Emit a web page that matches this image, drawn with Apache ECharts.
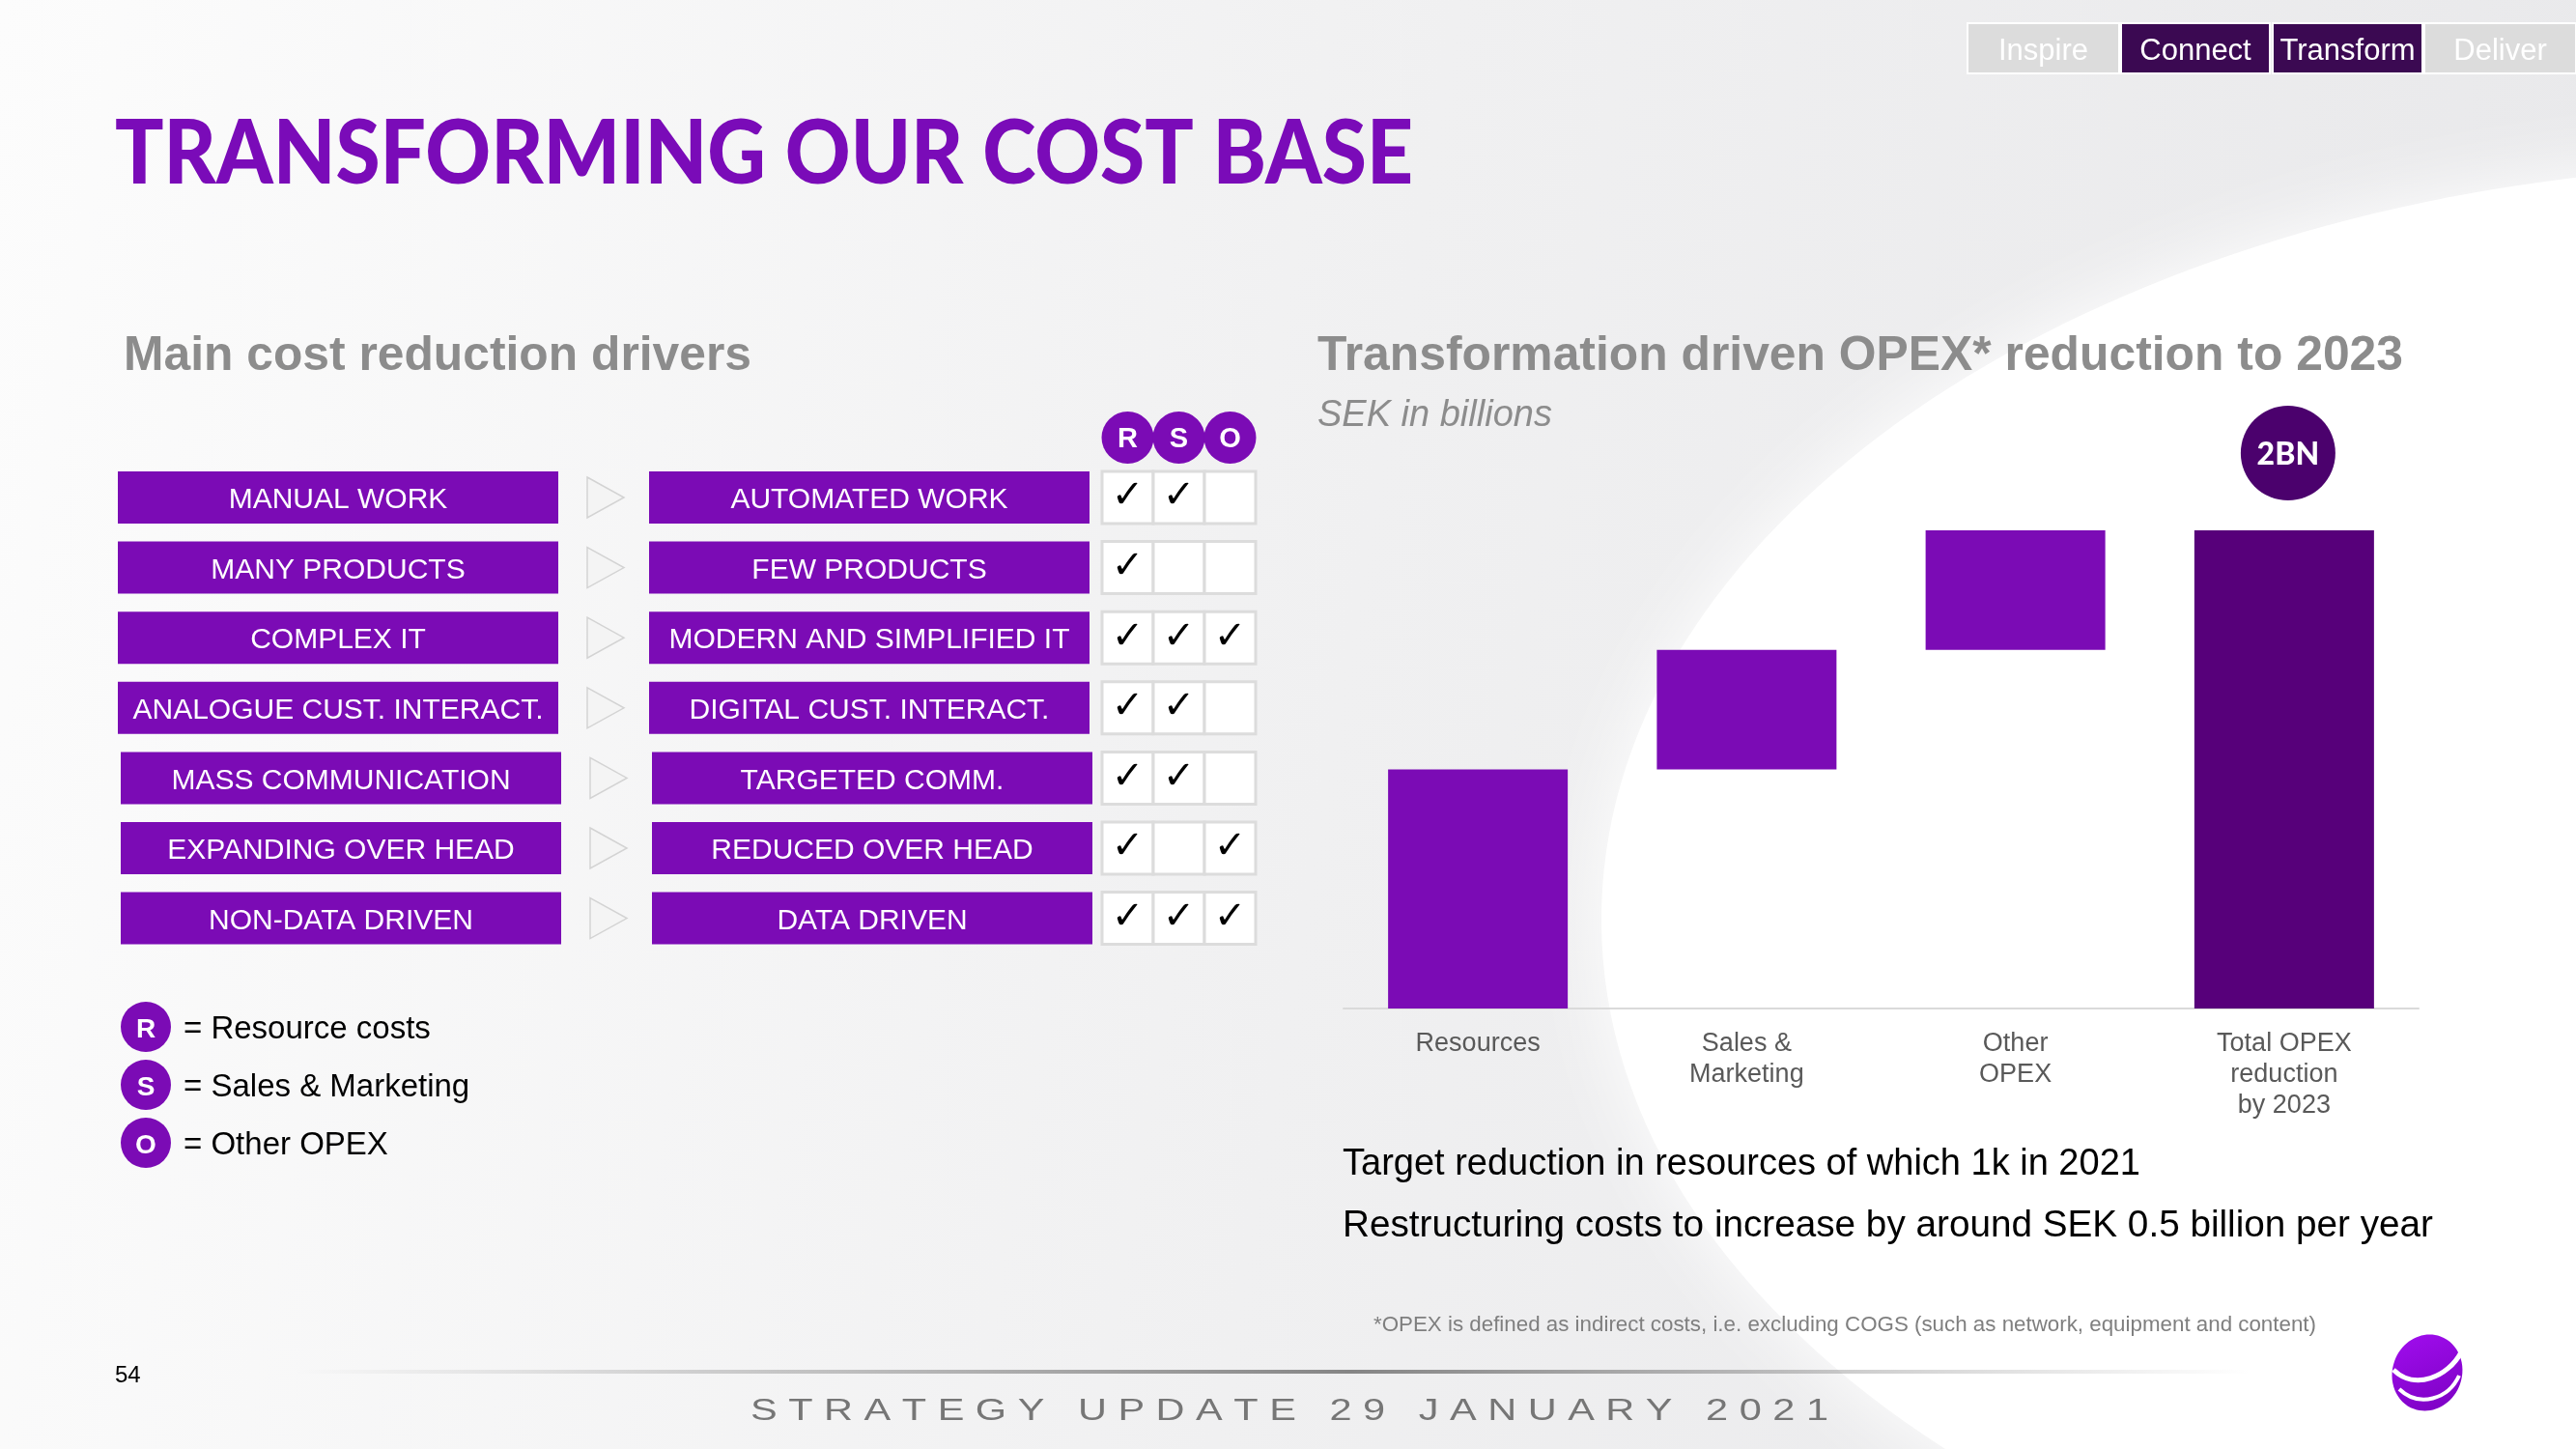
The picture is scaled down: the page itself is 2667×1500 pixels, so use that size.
<!DOCTYPE html>
<html>
<head>
<meta charset="utf-8">
<script src="https://cdn.jsdelivr.net/npm/echarts@6/dist/echarts.min.js"></script>
<style>
html,body{margin:0;padding:0;background:#fff;}
#main{width:2667px;height:1500px;}
</style>
</head>
<body>
<div id="main"></div>
<script>
// ---------- DATA ----------
const categories = ['Resources', 'Sales &\nMarketing', 'Other\nOPEX', 'Total OPEX\nreduction\nby 2023'];
const reductionValues = [1.0, 0.5, 0.5];   // SEK bn per driver
const totalValue = 2.0;                     // SEK bn total
const totalBadge = '2BN';

const fromLabels = ['MANUAL WORK', 'MANY PRODUCTS', 'COMPLEX IT', 'ANALOGUE CUST. INTERACT.', 'MASS COMMUNICATION', 'EXPANDING OVER HEAD', 'NON-DATA DRIVEN'];
const toLabels = ['AUTOMATED WORK', 'FEW PRODUCTS', 'MODERN AND SIMPLIFIED IT', 'DIGITAL CUST. INTERACT.', 'TARGETED COMM.', 'REDUCED OVER HEAD', 'DATA DRIVEN'];
const checkR = [1, 1, 1, 1, 1, 1, 1];
const checkS = [1, 0, 1, 1, 1, 0, 1];
const checkO = [0, 0, 1, 0, 0, 1, 1];
const costKeys = ['R', 'S', 'O'];
const costNames = ['Resource costs', 'Sales & Marketing', 'Other OPEX'];
const tabs = ['Inspire', 'Connect', 'Transform', 'Deliver'];
const activeTabs = [0, 1, 1, 0];
const notes = ['Target reduction in resources of which 1k in 2021', 'Restructuring costs to increase by around SEK 0.5 billion per year'];

// ---------- STYLE ----------
const PURPLE = '#7b0bb5';
const DARK = '#57007a';
const BADGE = '#4b016d';
const SANS = '"Liberation Sans", Arial, Helvetica, sans-serif';

const mctx = document.createElement('canvas').getContext('2d');
function fitScale(text, font, w) { mctx.font = font; return w / mctx.measureText(text).width; }

function txt(text, x, y, o) {
  o = o || {};
  const font = o.font || ('30px ' + SANS);
  const el = {
    type: 'text', x: x, y: y + 3, z: o.z != null ? o.z : 20,
    style: { text: text, x: 0, y: 0, font: font, fill: o.fill || '#000', textAlign: o.align || 'left', textVerticalAlign: 'middle' }
  };
  if (o.fit) { el.scaleX = fitScale(text, font, o.fit); }
  return el;
}

const chart = echarts.init(document.getElementById('main'), null, { renderer: 'canvas' });

const barValues = reductionValues.concat([totalValue]);
const bases = [];
let acc = 0;
reductionValues.forEach(v => { bases.push(acc); acc += v; });
bases.push(0);

chart.setOption({
  animation: false,
  backgroundColor: 'transparent',
  grid: { left: 1391, right: 163, top: 549, bottom: 456 },
  xAxis: {
    type: 'category', data: categories,
    axisLine: { lineStyle: { color: '#dadada', width: 2 } },
    axisTick: { show: false },
    axisLabel: { color: '#595959', fontSize: 27, lineHeight: 32, margin: 21, fontFamily: SANS, interval: 0 }
  },
  yAxis: { type: 'value', min: 0, max: 2, show: false, splitLine: { show: false } },
  series: [
    { type: 'bar', stack: 'w', barWidth: 186, silent: true, itemStyle: { color: 'rgba(0,0,0,0)' }, data: bases, z: 5 },
    { type: 'bar', stack: 'w', barWidth: 186, z: 5,
      data: barValues.map((v, i) => ({ value: v, itemStyle: { color: i === barValues.length - 1 ? DARK : PURPLE } })) }
  ]
});

// ---------- GRAPHICS ----------
const g = [];
// background
g.push({ type: 'rect', z: -10, shape: { x: 0, y: 0, width: 2667, height: 1500 },
  style: { fill: new echarts.graphic.LinearGradient(0, 0, 1, 0.3, [
    { offset: 0, color: '#fcfcfc' }, { offset: 0.55, color: '#f0f0f1' }, { offset: 1, color: '#e9e9eb' }]) } });
g.push({ type: 'ellipse', z: -9, shape: { cx: 2900, cy: 952, rx: 1242, ry: 782 },
  style: { fill: '#ffffff', shadowBlur: 80, shadowColor: 'rgba(255,255,255,1)' } });

// tabs
const tabX = [2037, 2196, 2353, 2510];
const tabW = [157, 154, 155, 157];
tabs.forEach((t, i) => {
  g.push({ type: 'rect', z: 10, shape: { x: tabX[i], y: 24, width: tabW[i], height: 52 },
    style: { fill: activeTabs[i] ? '#3b0952' : '#dcdcdc', stroke: '#ffffff', lineWidth: 2 } });
  g.push(txt(t, tabX[i] + tabW[i] / 2, 50, { align: 'center', fill: '#ffffff', font: '31px ' + SANS }));
});

// main title
g.push(txt('TRANSFORMING OUR COST BASE', 119, 157, { font: '900 92px Lato, "Open Sans", sans-serif', fill: '#7a0bb8', fit: 1344 }));

// section titles
g.push(txt('Main cost reduction drivers', 128, 366, { font: 'bold 50px ' + SANS, fill: '#8c8c8c', fit: 650 }));
g.push(txt('Transformation driven OPEX* reduction to 2023', 1364, 366, { font: 'bold 50px ' + SANS, fill: '#8c8c8c', fit: 1124 }));
g.push(txt('SEK in billions', 1364, 427, { font: 'italic 38px ' + SANS, fill: '#8c8c8c' }));

// RSO header circles
const cellX0 = 1141, cellW = 53, cellH = 54;
costKeys.forEach((k, j) => {
  const cx = cellX0 + j * cellW + cellW / 2;
  g.push({ type: 'circle', z: 10, shape: { cx: cx, cy: 453, r: 27 }, style: { fill: PURPLE } });
  g.push(txt(k, cx, 452, { align: 'center', fill: '#fff', font: 'bold 29px ' + SANS }));
});

// rows
const checks = [checkR, checkS, checkO];
fromLabels.forEach((lab, i) => {
  const cy = 515 + i * 72.6;
  const dx = i >= 4 ? 3 : 0;
  g.push({ type: 'rect', z: 10, shape: { x: 122 + dx, y: cy - 27, width: 456, height: 54 }, style: { fill: PURPLE } });
  g.push(txt(lab, 350 + dx, cy, { align: 'center', fill: '#fff', font: '30px ' + SANS }));
  g.push({ type: 'polygon', z: 10, shape: { points: [[608 + dx, cy - 21], [646 + dx, cy], [608 + dx, cy + 21]] },
    style: { fill: '#f4f4f4', stroke: '#d3d3d3', lineWidth: 1.5 } });
  g.push({ type: 'rect', z: 10, shape: { x: 672 + dx, y: cy - 27, width: 456, height: 54 }, style: { fill: PURPLE } });
  g.push(txt(toLabels[i], 900 + dx, cy, { align: 'center', fill: '#fff', font: '30px ' + SANS }));
  for (let j = 0; j < 3; j++) {
    const x = cellX0 + j * cellW;
    g.push({ type: 'rect', z: 10, shape: { x: x, y: cy - 27, width: cellW, height: cellH },
      style: { fill: '#ffffff', stroke: '#dcdcdc', lineWidth: 3 } });
    if (checks[j][i]) g.push(txt('✓', x + cellW / 2, cy - 3, { align: 'center', fill: '#000', font: 'bold 40px "DejaVu Sans", sans-serif', z: 12 }));
  }
});

// legend
costKeys.forEach((k, j) => {
  const cy = 1063 + j * 60;
  g.push({ type: 'circle', z: 10, shape: { cx: 151, cy: cy, r: 26 }, style: { fill: PURPLE } });
  g.push(txt(k, 151, cy, { align: 'center', fill: '#fff', font: 'bold 28px ' + SANS }));
  g.push(txt('= ' + costNames[j], 190, cy, { fill: '#000', font: '33px ' + SANS }));
});

// notes under chart
notes.forEach((n, i) => g.push(txt(n, 1390, 1203 + i * 64, { fill: '#000', font: '38px ' + SANS, fit: i === 1 ? 1129 : null })));
g.push(txt('*OPEX is defined as indirect costs, i.e. excluding COGS (such as network, equipment and content)', 1422, 1369,
  { fill: '#7f7f7f', font: '22px ' + SANS, fit: 976 }));

// footer
g.push(txt('54', 119, 1421, { fill: '#000', font: '24px ' + SANS }));
g.push({ type: 'rect', z: 5, shape: { x: 306, y: 1418, width: 2024, height: 4 },
  style: { fill: new echarts.graphic.LinearGradient(0, 0, 1, 0, [
    { offset: 0, color: 'rgba(150,150,150,0)' }, { offset: 0.54, color: '#858585' }, { offset: 1, color: 'rgba(150,150,150,0)' }]) } });
const footer = 'STRATEGY UPDATE 29 JANUARY 2021'.split(' ').map(w => w.split('').join(' ')).join('   ');
g.push(txt(footer, 777, 1458, { fill: '#767676', font: '32px ' + SANS, fit: 1116 }));

// logo
g.push({ type: 'ellipse', z: 10, rotation: -0.35, x: 2513, y: 1421, shape: { cx: 0, cy: 0, rx: 36, ry: 40 },
  style: { fill: new echarts.graphic.LinearGradient(0, 0, 1, 1, [{ offset: 0, color: '#a20ef0' }, { offset: 1, color: '#7a00c0' }]) } });
g.push({ type: 'bezierCurve', z: 11, shape: { x1: 2478, y1: 1418, x2: 2548, y2: 1400, cpx1: 2500, cpy1: 1440, cpx2: 2535, cpy2: 1425 },
  style: { stroke: '#ffffff', lineWidth: 5, fill: null } });
g.push({ type: 'bezierCurve', z: 11, shape: { x1: 2484, y1: 1438, x2: 2546, y2: 1424, cpx1: 2505, cpy1: 1458, cpx2: 2535, cpy2: 1448 },
  style: { stroke: '#ffffff', lineWidth: 4, fill: null } });

// badge above total bar
const p = chart.convertToPixel({ xAxisIndex: 0, yAxisIndex: 0 }, [categories.length - 1, totalValue]);
g.push({ type: 'circle', z: 10, shape: { cx: p[0] + 4, cy: p[1] - 80, r: 49 }, style: { fill: BADGE } });
g.push(txt(totalBadge, p[0] + 4, p[1] - 81, { align: 'center', fill: '#fff', font: '900 32px Lato, "Open Sans", sans-serif' }));

chart.setOption({ graphic: { elements: g } });
</script>
</body>
</html>
